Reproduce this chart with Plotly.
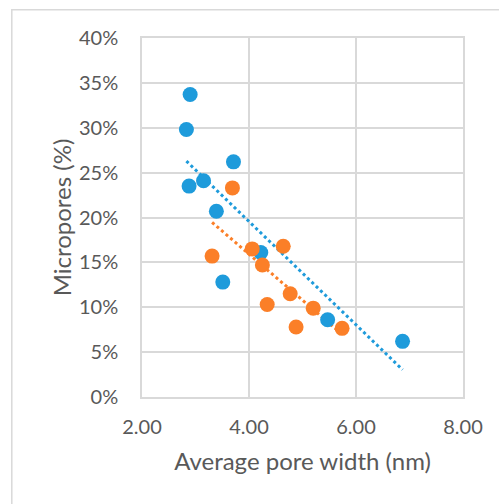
import numpy as np
import plotly.graph_objects as go

blue_x = [2.90, 2.83, 3.71, 2.88, 3.15, 3.39, 4.22, 3.51, 5.47, 6.87]
blue_y = [0.337, 0.298, 0.262, 0.235, 0.241, 0.207, 0.161, 0.128, 0.086, 0.062]
orange_x = [3.69, 3.31, 4.06, 4.64, 4.25, 4.34, 4.77, 5.20, 4.88, 5.74]
orange_y = [0.233, 0.157, 0.165, 0.168, 0.147, 0.103, 0.115, 0.099, 0.078, 0.0765]

x_ticks = [2, 4, 6, 8]
x_tick_text = ["2.00", "4.00", "6.00", "8.00"]
y_ticks = [0, 0.05, 0.10, 0.15, 0.20, 0.25, 0.30, 0.35, 0.40]

BLUE = "#1E9BDB"
ORANGE = "#FB7F28"
FONT = "Lato"
GRAY = "#595959"


def trend(xs, ys):
    a, b = np.polyfit(xs, ys, 1)
    tx = np.array([min(xs), max(xs)])
    return tx, a * tx + b


fig = go.Figure()
for xs, ys, c in [(blue_x, blue_y, BLUE), (orange_x, orange_y, ORANGE)]:
    tx, ty = trend(xs, ys)
    fig.add_trace(go.Scatter(x=tx, y=ty, mode="lines",
                             line=dict(color=c, width=3, dash="dot"),
                             hoverinfo="skip", showlegend=False))
for xs, ys, c in [(blue_x, blue_y, BLUE), (orange_x, orange_y, ORANGE)]:
    fig.add_trace(go.Scatter(x=xs, y=ys, mode="markers",
                             marker=dict(color=c, size=15, line=dict(width=0)),
                             showlegend=False))

L, R, T, B = 141.7, 462.7, 37.7, 397.0
W, H = 499, 504
pw, ph = R - L, B - T

def px(x):
    return (x - L) / pw

def py(y):
    return (B - y) / ph

fig.add_shape(type="rect", xref="paper", yref="paper",
              x0=px(11.5), y0=py(530), x1=px(530), y1=py(9.5),
              line=dict(color="#D9D9D9", width=1.5), fillcolor="rgba(0,0,0,0)",
              layer="below")

fig.update_layout(
    width=W, height=H,
    margin=dict(l=L, r=W - R, t=T, b=H - B, pad=0),
    paper_bgcolor="white", plot_bgcolor="white",
    font=dict(family=FONT, color=GRAY, size=20),
    xaxis=dict(range=[2, 8], tickvals=x_ticks, ticktext=x_tick_text,
               showgrid=True, gridcolor="#D9D9D9", gridwidth=1.5,
               zeroline=False, showline=True, linecolor="#D9D9D9", linewidth=1.5,
               mirror=True, ticks="", ticklabelstandoff=11,
               title=dict(text="Average pore width (nm)", font=dict(size=24, color=GRAY),
                          standoff=16),
               tickfont=dict(size=20, color=GRAY)),
    yaxis=dict(range=[0, 0.40], tickvals=y_ticks, tickformat=".0%",
               showgrid=True, gridcolor="#D9D9D9", gridwidth=1.5,
               zeroline=False, showline=True, linecolor="#D9D9D9", linewidth=1.5,
               mirror=True, ticks="", ticklabelstandoff=18,
               title=dict(text="Micropores (%)", font=dict(size=24, color=GRAY),
                          standoff=1),
               tickfont=dict(size=20, color=GRAY)),
)

fig.write_html("out.html")
